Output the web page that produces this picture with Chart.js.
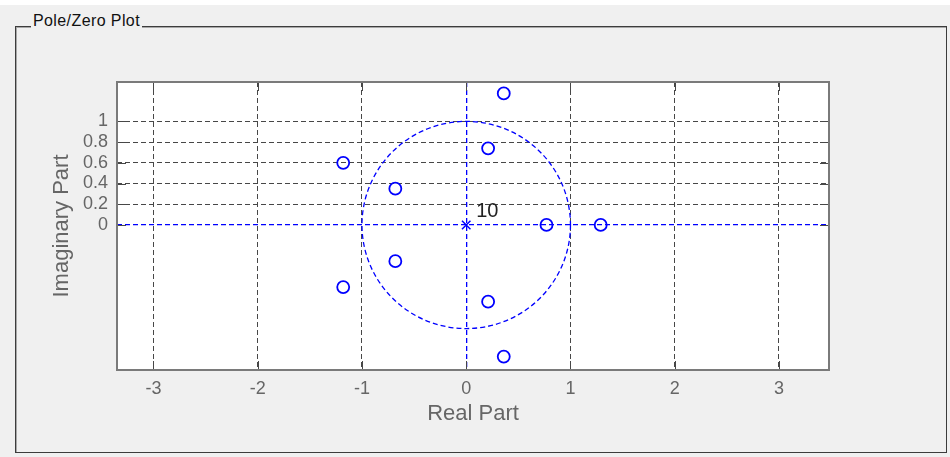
<!DOCTYPE html>
<html>
<head>
<meta charset="utf-8">
<title>Pole/Zero Plot</title>
<script src="https://cdn.jsdelivr.net/npm/chart.js@4.4.0/dist/chart.umd.min.js"></script>
<style>
  html, body { margin: 0; padding: 0; background: #f0f0f0; }
  #wrap { position: relative; width: 950px; height: 457px; overflow: hidden; }
  #strip { position: absolute; left: 0; top: 0; width: 950px; height: 5px; background: #fff; }
  #box { position: absolute; left: 15px; top: 26px; width: 930px; height: 425px;
         border: 1px solid #3c3c3c; box-shadow: inset 1px 1px 0 #a8a8a8; }
  #legend { position: absolute; left: 31px; top: 12px; padding: 0 2px; background: #f0f0f0;
            font: 16px "Liberation Sans", Arial, sans-serif; letter-spacing: .4px;
            color: #111; line-height: 18px; }
  canvas { position: absolute; left: 0; top: 0; }
</style>
</head>
<body>
<div id="wrap">
  <div id="strip"></div>
  <div id="box"></div>
  <div id="legend">Pole/Zero Plot</div>
  <canvas id="canvas" width="950" height="457"></canvas>
</div>
<script>
// zeros (o) and poles (x), real and imaginary parts
var zerosRe = [0.36, 0.36, 0.21, 0.21, -1.18, -1.18, -0.68, -0.68, 0.77, 1.29];
var zerosIm = [1.27, -1.27, 0.74, -0.74, 0.60, -0.60, 0.35, -0.35, 0, 0];
var polesRe = [0];
var polesIm = [0];
var poleCount = [10];

// axes
var xTicks = [-3, -2, -1, 0, 1, 2, 3];
var yTicks = [0, 0.2, 0.4, 0.6, 0.8, 1];
var xRange = [-3.35, 3.48];
var yRange = [-1.40, 1.38];

var blue = '#0000ff';
var gridGrey = '#474747';
var labelGrey = '#666666';
var dash = [5, 3];

Chart.defaults.font.family = '"Liberation Sans", Arial, sans-serif';

var toPoints = (re, im) => re.map((x, i) => ({x: x, y: im[i]}));
var isZero = c => c.tick && c.tick.value === 0;

// white axes box, unit circle, frame with tick marks and the pole multiplicity
var pzPlugin = {
  id: 'pz',
  beforeDraw: chart => {
    var a = chart.chartArea, ctx = chart.ctx;
    ctx.save();
    ctx.fillStyle = '#ffffff';
    ctx.fillRect(a.left, a.top, a.right - a.left, a.bottom - a.top);
    ctx.restore();
  },
  beforeDatasetsDraw: chart => {
    var a = chart.chartArea, ctx = chart.ctx;
    var xs = chart.scales.x, ys = chart.scales.y;
    var cx = xs.getPixelForValue(0), cy = ys.getPixelForValue(0);
    var rx = xs.getPixelForValue(1) - cx, ry = cy - ys.getPixelForValue(1);
    ctx.save();
    ctx.beginPath();
    ctx.rect(a.left, a.top, a.right - a.left, a.bottom - a.top);
    ctx.clip();
    ctx.strokeStyle = blue;
    ctx.lineWidth = 1.3;
    ctx.setLineDash(dash);
    ctx.beginPath();
    ctx.ellipse(cx, cy, rx, ry, 0, 0, Math.PI * 2);
    ctx.stroke();
    ctx.restore();
  },
  afterDatasetsDraw: chart => {
    var ctx = chart.ctx;
    var xs = chart.scales.x, ys = chart.scales.y;
    ctx.save();
    ctx.fillStyle = '#222222';
    ctx.font = '20px "Liberation Sans", Arial, sans-serif';
    ctx.textAlign = 'left';
    ctx.textBaseline = 'middle';
    polesRe.forEach((re, i) => {
      if (poleCount[i] > 1)
        ctx.fillText(String(poleCount[i]), xs.getPixelForValue(re) + 10, ys.getPixelForValue(polesIm[i]) - 13);
    });
    ctx.restore();
  },
  afterDraw: chart => {
    var a = chart.chartArea, ctx = chart.ctx;
    var xs = chart.scales.x, ys = chart.scales.y;
    var len = 9;
    ctx.save();
    ctx.strokeStyle = gridGrey;
    ctx.lineWidth = 1;
    ctx.beginPath();
    xTicks.forEach(v => {
      var px = Math.round(xs.getPixelForValue(v)) + 0.5;
      ctx.moveTo(px, a.top); ctx.lineTo(px, a.top + len);
      ctx.moveTo(px, a.bottom); ctx.lineTo(px, a.bottom - len);
    });
    yTicks.forEach(v => {
      var py = Math.round(ys.getPixelForValue(v)) + 0.5;
      ctx.moveTo(a.left, py); ctx.lineTo(a.left + len, py);
      ctx.moveTo(a.right, py); ctx.lineTo(a.right - len, py);
    });
    ctx.stroke();
    ctx.strokeStyle = '#7a7a7a';
    ctx.lineWidth = 2;
    ctx.strokeRect(a.left, a.top, a.right - a.left, a.bottom - a.top);
    ctx.restore();
  }
};

var config = {
  type: 'scatter',
  data: {
    datasets: [
      {
        label: 'Zeros',
        data: toPoints(zerosRe, zerosIm),
        pointStyle: 'circle',
        pointRadius: 6,
        pointBorderWidth: 1.8,
        pointBorderColor: blue,
        pointBackgroundColor: 'rgba(0,0,0,0)'
      },
      {
        label: 'Poles',
        data: toPoints(polesRe, polesIm),
        pointStyle: 'crossRot',
        pointRadius: 6,
        pointBorderWidth: 1.5,
        pointBorderColor: blue
      }
    ]
  },
  options: {
    responsive: false,
    animation: false,
    devicePixelRatio: 1,
    events: [],
    layout: { padding: { left: 0, top: 82, right: 121, bottom: 0 } },
    plugins: { legend: { display: false }, tooltip: { enabled: false } },
    scales: {
      x: {
        type: 'linear',
        position: 'bottom',
        min: xRange[0],
        max: xRange[1],
        afterFit: s => { s.height = 87; },
        afterBuildTicks: s => { s.ticks = xTicks.map(v => ({value: v})); },
        ticks: { color: labelGrey, font: { size: 18 }, padding: 8, maxRotation: 0, autoSkip: false,
                 callback: v => String(v) },
        grid: { color: c => isZero(c) ? blue : gridGrey, lineWidth: c => isZero(c) ? 1.3 : 1, drawTicks: false },
        border: { display: false, dash: dash },
        title: { display: true, text: 'Real Part', color: labelGrey, font: { size: 22 },
                 padding: { top: 0, bottom: 30 } }
      },
      y: {
        type: 'linear',
        position: 'left',
        min: yRange[0],
        max: yRange[1],
        afterFit: s => { s.width = 117; },
        afterBuildTicks: s => { s.ticks = yTicks.map(v => ({value: v})); },
        ticks: { color: labelGrey, font: { size: 18 }, padding: 9, autoSkip: false,
                 callback: v => String(v) },
        grid: { color: c => isZero(c) ? blue : gridGrey, lineWidth: c => isZero(c) ? 1.3 : 1, drawTicks: false },
        border: { display: false, dash: dash },
        title: { display: true, text: 'Imaginary Part', color: labelGrey, font: { size: 22 },
                 padding: { top: 49, bottom: 0 } }
      }
    }
  },
  plugins: [pzPlugin]
};

new Chart(document.getElementById('canvas'), config);
</script>
</body>
</html>
